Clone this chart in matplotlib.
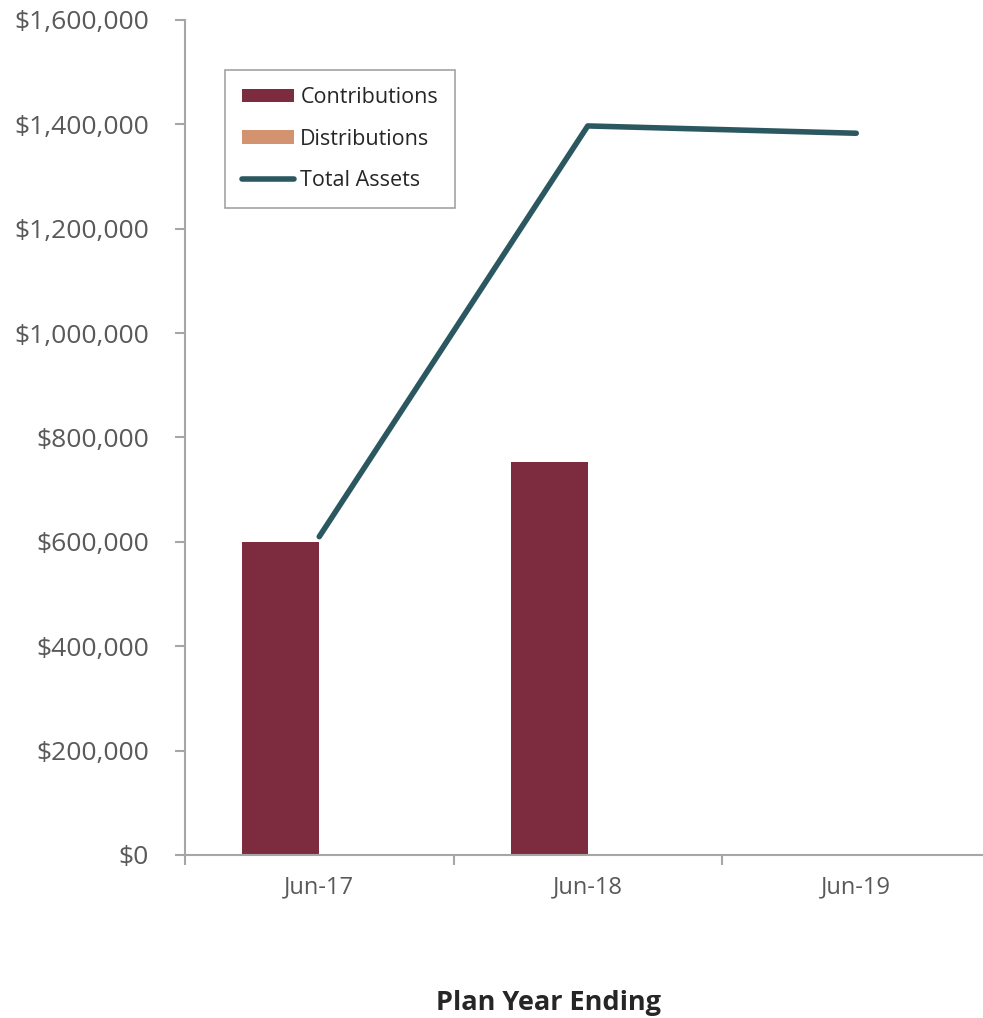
import numpy as np
import matplotlib
matplotlib.use("Agg")
import matplotlib.pyplot as plt
from matplotlib.ticker import FuncFormatter

plt.rcParams['font.family'] = ['Open Sans', 'DejaVu Sans']

# data
years = ['Jun-17', 'Jun-18', 'Jun-19']
contributions = [600000, 753000, 0]
distributions = [0, 0, 0]
total_assets = [610000, 1397000, 1383000]

bar_col = '#7d2c3f'
dist_col = '#d49370'
line_col = '#2b5860'
grid_col = '#a6a6a6'
text_col = '#595959'

fig = plt.figure(figsize=(9.83, 10.18), dpi=100)
ax = fig.add_axes([185/983, 163/1018, 805.5/983, 835/1018])

x = np.arange(len(years))
w = 0.287
b1 = ax.bar(x - w/2, contributions, w, color=bar_col, label='Contributions')
b2 = ax.bar(x + w/2, distributions, w, color=dist_col, label='Distributions')
l1, = ax.plot(x, total_assets, color=line_col, lw=4, solid_capstyle='round', label='Total Assets')

ax.set_xlim(-0.5, 2.5)
ax.set_ylim(0, 1600000)
ax.set_yticks(np.arange(0, 1600001, 200000))
ax.yaxis.set_major_formatter(FuncFormatter(lambda v, p: '${:,.0f}'.format(v)))

ax.set_xticks(x)
ax.set_xticklabels(years)
ax.set_xticks([-0.5, 0.5, 1.5, 2.5], minor=True)
ax.tick_params(axis='x', which='major', length=0, pad=15, labelsize=17, labelcolor=text_col)
ax.tick_params(axis='x', which='minor', length=7, width=1.5, color=grid_col, direction='out')
ax.tick_params(axis='y', length=7, width=1.5, color=grid_col, pad=19, labelsize=19, labelcolor=text_col)

for s in ['top', 'right']:
    ax.spines[s].set_visible(False)
for s in ['left', 'bottom']:
    ax.spines[s].set_color(grid_col)
    ax.spines[s].set_linewidth(1.5)

leg = ax.legend([b1, b2, l1], ['Contributions', 'Distributions', 'Total Assets'],
                loc='upper left', bbox_to_anchor=(225/983, 1 - 70/1018), bbox_transform=fig.transFigure,
                fontsize=15.5, frameon=True, fancybox=False, edgecolor='#8c8c8c',
                handlelength=2.4, handleheight=0.6, handletextpad=0.3, labelspacing=0.95,
                borderpad=0.8, borderaxespad=0)
leg.get_frame().set_linewidth(1.2)
for t in leg.get_texts():
    t.set_color('#262626')

fig.text(548/983, 1 - 1003/1018, 'Plan Year Ending', ha='center', va='center',
         fontsize=19.5, fontweight='bold', color='#262626')

fig.savefig('out.png', dpi=100)
